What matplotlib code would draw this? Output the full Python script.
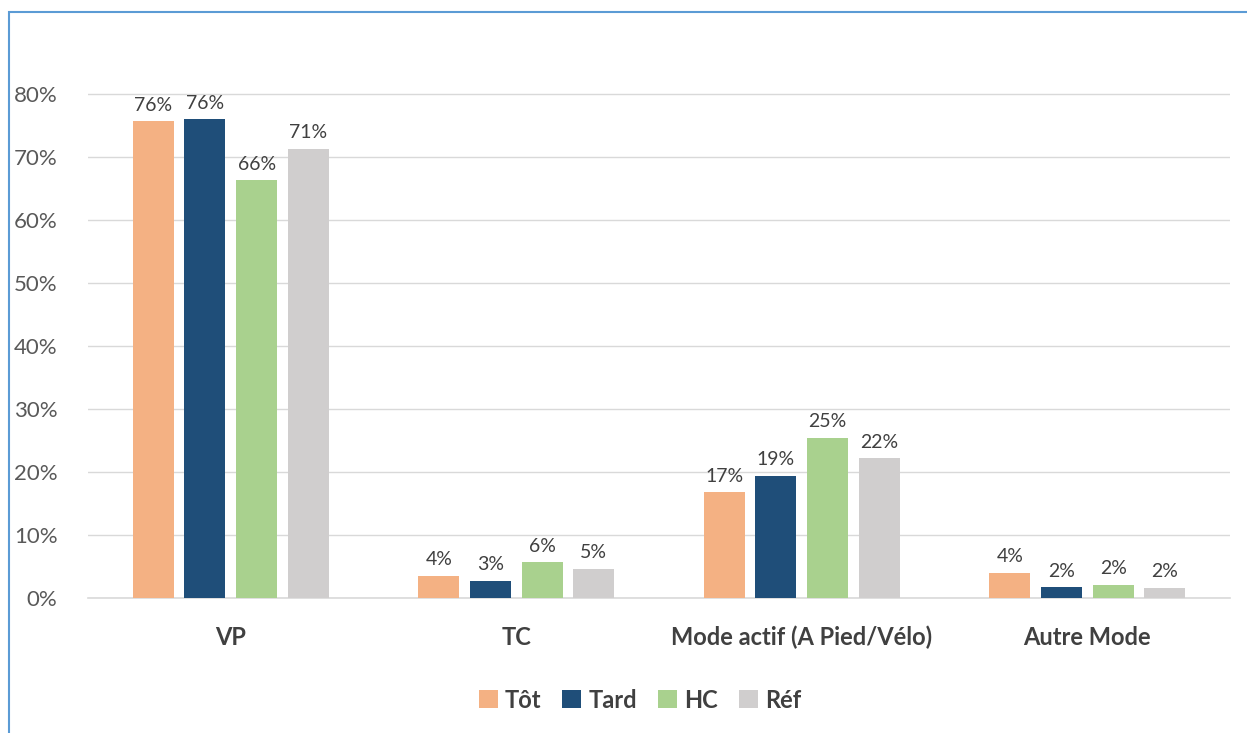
import matplotlib.pyplot as plt
import numpy as np
from matplotlib.patches import Rectangle

categories = ["VP", "TC", "Mode actif (A Pied/Vélo)", "Autre Mode"]
series = ["Tôt", "Tard", "HC", "Réf"]
tot = [75.7, 3.5, 16.8, 4.0]
tard = [76.0, 2.7, 19.4, 1.7]
hc = [66.3, 5.7, 25.4, 2.1]
ref = [71.3, 4.6, 22.2, 1.6]
labels = [["76%", "4%", "17%", "4%"],
          ["76%", "3%", "19%", "2%"],
          ["66%", "6%", "25%", "2%"],
          ["71%", "5%", "22%", "2%"]]
colors = ["#F4B183", "#1F4E79", "#A9D18E", "#D0CECE"]

plt.rcParams['font.family'] = ['Lato', 'DejaVu Sans']

fig = plt.figure(figsize=(12.47, 7.33), dpi=100)
ax = fig.add_axes([88 / 1247, 1 - 598 / 733, 1142 / 1247, (598 - 60) / 733])

# chart frame (left and top edges visible)
fig.patches.append(Rectangle((9 / 1247, -0.1), 1.2, 1 - 12 / 733 + 0.1,
                             transform=fig.transFigure, fill=False,
                             edgecolor="#5B9BD5", linewidth=1.5))

x = np.arange(len(categories))
step = 0.181
width = 0.144
for i, (vals, name) in enumerate(zip([tot, tard, hc, ref], series)):
    pos = x + (i - 1.5) * step
    ax.bar(pos, vals, width, color=colors[i], label=name, zorder=3)
    for p, v, t in zip(pos, vals, labels[i]):
        ax.text(p, v + 1.2, t, ha="center", va="bottom", fontsize=14, color="#404040")

ax.set_xlim(-0.5, 3.5)
ax.set_ylim(0, 85.4)
ax.set_yticks(np.arange(0, 81, 10))
ax.set_yticklabels([f"{v}%" for v in range(0, 81, 10)], fontsize=16, color="#595959")
ax.set_xticks(x)
ax.set_xticklabels(categories, fontsize=17, fontweight="bold", color="#404040")
ax.tick_params(axis="both", length=0)
ax.tick_params(axis="x", pad=20)
ax.tick_params(axis="y", pad=22)
ax.grid(axis="y", color="#D9D9D9", linewidth=1, zorder=0)
for s in ["top", "right", "left"]:
    ax.spines[s].set_visible(False)
ax.spines["bottom"].set_color("#D9D9D9")
ax.spines["bottom"].set_linewidth(1.2)

fig.legend(loc="center", bbox_to_anchor=(640 / 1247, 1 - 700 / 733), ncol=4,
           frameon=False, prop={"size": 17, "weight": "bold"},
           labelcolor="#404040", handlelength=0.8, handleheight=0.8,
           handletextpad=0.3, columnspacing=0.9)

fig.savefig("out.png", dpi=100)
